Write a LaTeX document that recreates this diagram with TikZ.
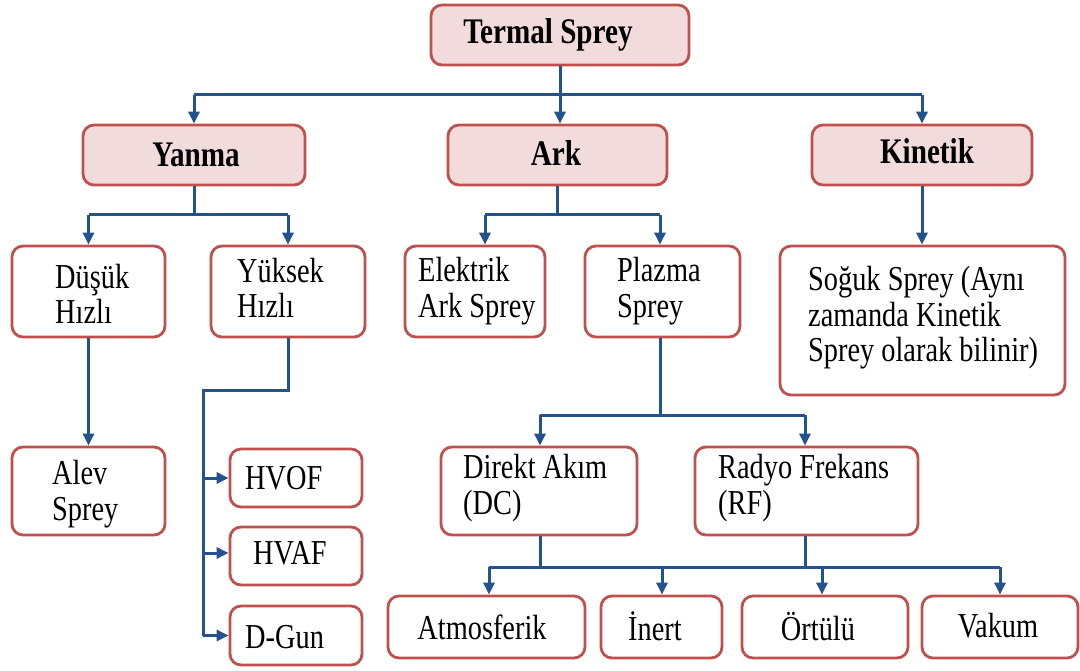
\documentclass[tikz,border=0pt]{standalone}
\usepackage{fontspec}
\setmainfont{Liberation Serif}[FakeStretch=0.81]
\usetikzlibrary{arrows.meta}
\definecolor{bred}{HTML}{C0504D}
\definecolor{bpink}{HTML}{F2DCDB}
\definecolor{lblue}{HTML}{24528F}
\tikzset{
  box/.style={draw=bred, line width=2.8pt, rounded corners=11pt, fill=white, inner sep=0pt},
  hbox/.style={box, fill=bpink},
  txt/.style={inner sep=0pt, align=left, font=\fontsize{35}{35.5}\selectfont},
  htxt/.style={inner sep=0pt, font=\fontsize{36}{36}\selectfont\bfseries},
  conn/.style={draw=lblue, line width=3pt},
  arr/.style={conn, -{Triangle[length=12pt,width=11pt]}}
}
\begin{document}
\begin{tikzpicture}[x=1pt,y=-1pt]
\useasboundingbox (0,0) rectangle (1080,671);
% level 0
\node[hbox, minimum width=258pt, minimum height=60pt] (top) at (560,35) {};
\node[htxt] (ttop) at (548,35) {Termal Sprey};
% level 1
\node[hbox, minimum width=222pt, minimum height=60pt] (yanma) at (194,155) {};
\node[htxt] (tyanma) at (196,155) {Yanma};
\node[hbox, minimum width=219pt, minimum height=60pt] (ark) at (557.5,155) {};
\node[htxt] (tark) at (556,153) {Ark};
\node[hbox, minimum width=220pt, minimum height=60pt] (kinetik) at (922,155) {};
\node[htxt] (tkinetik) at (927,151) {Kinetik};
% level 2
\node[box, minimum width=153pt, minimum height=91pt] (dusuk) at (88.5,291.5) {};
\node[txt, anchor=west] (tdusuk) at (55,294) {Düşük\\Hızlı};
\node[box, minimum width=154pt, minimum height=91pt] (yuksek) at (288,291.5) {};
\node[txt, anchor=west] (tyuksek) at (237,288) {Yüksek\\Hızlı};
\node[box, minimum width=140pt, minimum height=91pt] (elektrik) at (475,291.5) {};
\node[txt, anchor=west] (telektrik) at (418,291) {Elektrik\\Ark Sprey};
\node[box, minimum width=155pt, minimum height=91pt] (plazma) at (662.5,291.5) {};
\node[txt, anchor=west] (tplazma) at (617,291) {Plazma\\Sprey};
\node[box, minimum width=285pt, minimum height=149pt] (soguk) at (922.5,320.5) {};
\node[txt, anchor=west] (tsoguk) at (808,318) {Soğuk Sprey (Aynı\\zamanda Kinetik\\Sprey olarak bilinir)};
% level 3
\node[box, minimum width=153pt, minimum height=88pt] (alev) at (88.5,491) {};
\node[txt, anchor=west] (talev) at (52,494) {Alev\\Sprey};
\node[box, minimum width=132pt, minimum height=58pt] (hvof) at (296,478) {};
\node[txt, anchor=west] (thvof) at (245,478) {HVOF};
\node[box, minimum width=132pt, minimum height=58pt] (hvaf) at (296,556) {};
\node[txt, anchor=west] (thvaf) at (253,553) {HVAF};
\node[box, minimum width=132pt, minimum height=59pt] (dgun) at (296,635.5) {};
\node[txt, anchor=west] (tdgun) at (245,637) {D-Gun};
\node[box, minimum width=196pt, minimum height=88pt] (dc) at (539,491) {};
\node[txt, anchor=west] (tdc) at (463,488) {Direkt Akım\\(DC)};
\node[box, minimum width=223pt, minimum height=88pt] (rf) at (806.5,491) {};
\node[txt, anchor=west] (trf) at (718,488) {Radyo Frekans\\(RF)};
% level 4
\node[box, minimum width=197pt, minimum height=62pt] (atm) at (486.5,627) {};
\node[txt] (tatm) at (482,627) {Atmosferik};
\node[box, minimum width=121pt, minimum height=62pt] (inert) at (661.5,627) {};
\node[txt] (tinert) at (655,626) {İnert};
\node[box, minimum width=166pt, minimum height=62pt] (ortulu) at (825,627) {};
\node[txt] (tortulu) at (818,626) {Örtülü};
\node[box, minimum width=156pt, minimum height=62pt] (vakum) at (1000,627) {};
\node[txt] (tvakum) at (998,626) {Vakum};
% connectors level 0 -> 1
\coordinate (j0) at (560,95);
\draw[conn] (top.south -| j0) -- (j0);
\draw[conn] (yanma.north |- j0) -- (kinetik.north |- j0);
\draw[arr] (yanma.north |- j0) -- (yanma.north);
\draw[arr] (j0) -- (j0 |- ark.north);
\draw[arr] (kinetik.north |- j0) -- (kinetik.north);
% Yanma
\coordinate (j1) at (194,215);
\draw[conn] (yanma.south) -- (j1);
\draw[conn] (dusuk.north |- j1) -- (yuksek.north |- j1);
\draw[arr] (dusuk.north |- j1) -- (dusuk.north);
\draw[arr] (yuksek.north |- j1) -- (yuksek.north);
% Ark
\coordinate (j2) at (557.5,215);
\coordinate (j2a) at (485,215);
\coordinate (j2b) at (660,215);
\draw[conn] (ark.south) -- (j2);
\draw[conn] (j2a) -- (j2b);
\draw[arr] (j2a) -- (j2a |- elektrik.north);
\draw[arr] (j2b) -- (j2b |- plazma.north);
% Kinetik
\draw[arr] (kinetik.south) -- (soguk.north -| kinetik.south);
% Dusuk -> Alev
\draw[arr] (dusuk.south) -- (alev.north);
% Yuksek -> HVOF etc
\coordinate (j3) at (288,390);
\coordinate (j3a) at (203,390);
\coordinate (j3b) at (203,636);
\draw[conn] (yuksek.south -| j3) -- (j3) -- (j3a) -- (j3b);
\draw[arr] (j3a |- hvof.west) -- (hvof.west);
\coordinate (j3c) at (203,553);
\draw[arr] (j3c) -- (j3c -| hvaf.west);
\draw[arr] (j3a |- dgun.west) -- (dgun.west);
% Plazma
\coordinate (j4) at (660,415);
\coordinate (j4a) at (540,415);
\coordinate (j4b) at (805,415);
\draw[conn] (plazma.south -| j4) -- (j4);
\draw[conn] (j4a) -- (j4b);
\draw[arr] (j4a) -- (j4a |- dc.north);
\draw[arr] (j4b) -- (j4b |- rf.north);
% DC / RF -> bottom
\coordinate (j5) at (540,567);
\coordinate (j6) at (805,567);
\draw[conn] (dc.south -| j5) -- (j5);
\draw[conn] (rf.south -| j6) -- (j6);
\coordinate (k1) at (489,567);
\coordinate (k2) at (662,567);
\coordinate (k3) at (822,567);
\coordinate (k4) at (1000,567);
\draw[conn] (k1) -- (k4);
\draw[arr] (k1) -- (k1 |- atm.north);
\draw[arr] (k2) -- (k2 |- inert.north);
\draw[arr] (k3) -- (k3 |- ortulu.north);
\draw[arr] (k4) -- (k4 |- vakum.north);
\end{tikzpicture}
\end{document}
